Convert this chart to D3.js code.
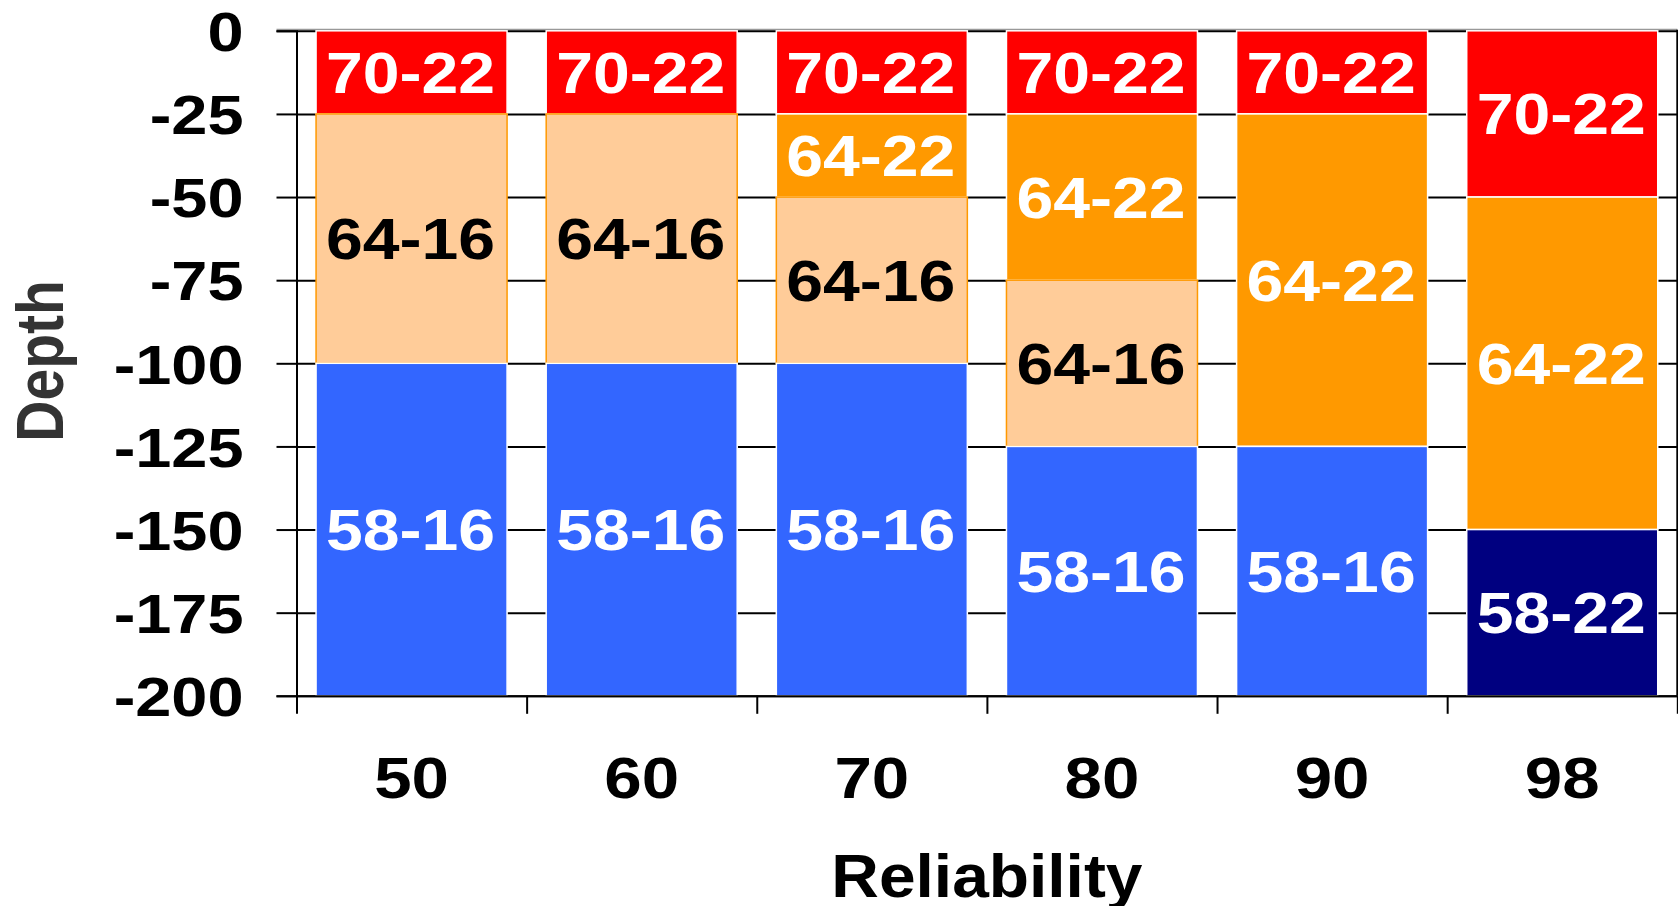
<!DOCTYPE html>
<html>
<head>
<meta charset="utf-8">
<script src="https://cdn.jsdelivr.net/npm/d3@7"></script>
<style>
  body { margin: 0; background: #fff; }
  text { font-family: "Liberation Sans", Arial, sans-serif; font-weight: bold; }
</style>
</head>
<body>
<div id="chart"></div>
<script>
// data: thickness (depth in cm) of each grade layer, top to bottom, per reliability level
let reliability = ["50", "60", "70", "80", "90", "98"];
let grades = ["70-22", "64-22", "64-16", "58-16", "58-22"];
let layer7022 = [25, 25, 25, 25, 25, 50];
let layer6422 = [0, 0, 25, 50, 100, 100];
let layer6416 = [75, 75, 50, 50, 0, 0];
let layer5816 = [100, 100, 100, 75, 75, 0];
let layer5822 = [0, 0, 0, 0, 0, 50];
let depthTicks = [0, -25, -50, -75, -100, -125, -150, -175, -200];

let fills = { "70-22": "#ff0000", "64-22": "#ff9900", "64-16": "#ffcc99", "58-16": "#3366ff", "58-22": "#000080" };
let strokes = { "70-22": "#fff", "64-22": "#fff", "64-16": "#ff9900", "58-16": "#fff", "58-22": "#fff" };
let labelColor = { "70-22": "#fff", "64-22": "#fff", "64-16": "#000", "58-16": "#fff", "58-22": "#fff" };

let layers = [layer7022, layer6422, layer6416, layer5816, layer5822];
let table = reliability.map((r, i) => {
    let row = { rel: r };
    grades.forEach((g, k) => row[g] = layers[k][i]);
    return row;
});

let width = 1678, height = 906;
let margin = { top: 30.8, left: 296.5, right: 0.7, bottom: 210.2 };
let plotW = width - margin.left - margin.right;
let plotH = height - margin.top - margin.bottom;
let stretch = 1.18; // text in the source is drawn wider than normal

let svg = d3.select("#chart").append("svg")
    .attr("width", width).attr("height", height);

let g = svg.append("g").attr("transform", "translate(" + margin.left + "," + margin.top + ")");

let x = d3.scaleBand().domain(reliability).range([0, plotW])
    .paddingInner(0.17).paddingOuter(0.085);
let xEdges = d3.scaleLinear().domain([0, reliability.length]).range([0, plotW]);
let y = d3.scaleLinear().domain([-200, 0]).range([plotH, 0]);

// top border
g.append("line").attr("x1", -20).attr("x2", plotW).attr("y1", -1.3).attr("y2", -1.3)
    .attr("stroke", "#999").attr("stroke-width", 1.5);

// gridlines
g.append("g").attr("class", "grid")
    .call(d3.axisLeft(y).tickValues(depthTicks).tickSize(-plotW).tickFormat(""))
    .call(s => s.select(".domain").remove())
    .selectAll("line").attr("stroke", "#000").attr("stroke-width", 2);

// stacked bars
let stack = d3.stack().keys(grades)(table);

let layerG = g.selectAll(".layer").data(stack).enter().append("g").attr("class", "layer");

layerG.selectAll("rect")
    .data(d => d.map(p => ({ key: d.key, rel: p.data.rel, y0: p[0], y1: p[1] })).filter(p => p.y1 > p.y0))
    .enter().append("rect")
    .attr("x", d => x(d.rel))
    .attr("width", x.bandwidth())
    .attr("y", d => y(-d.y0))
    .attr("height", d => y(-d.y1) - y(-d.y0))
    .attr("fill", d => fills[d.key])
    .attr("stroke", d => strokes[d.key])
    .attr("stroke-width", 1.5);

layerG.selectAll("text")
    .data(d => d.map(p => ({ key: d.key, rel: p.data.rel, y0: p[0], y1: p[1] })).filter(p => p.y1 > p.y0))
    .enter().append("text")
    .attr("transform", d => "translate(" + (x(d.rel) + x.bandwidth() / 2 - 1) + "," + y(-(d.y0 + d.y1) / 2) + ") scale(1.16,1)")
    .attr("text-anchor", "middle")
    .attr("dy", "0.36em")
    .attr("font-size", 57)
    .attr("fill", d => labelColor[d.key])
    .text(d => d.key);

// y axis
let yAxis = g.append("g")
    .call(d3.axisLeft(y).tickValues(depthTicks).tickSize(20).tickFormat(d3.format("d")));
yAxis.selectAll("line, path").attr("stroke", "#000").attr("stroke-width", 2);
yAxis.selectAll("text")
    .attr("font-size", 55)
    .attr("fill", "#000")
    .attr("x", -53 / stretch)
    .attr("dy", "0.36em")
    .attr("transform", "scale(" + stretch + ",1)")
    .text(d => d === 0 ? "0" : d);

// x axis: ticks on the band edges, labels on the band centres
let xAxis = g.append("g").attr("transform", "translate(0," + plotH + ")")
    .call(d3.axisBottom(xEdges).tickValues(d3.range(reliability.length + 1)).tickSize(18).tickSizeOuter(0).tickFormat(""));
xAxis.selectAll("line, path").attr("stroke", "#000").attr("stroke-width", 2);

g.append("line").attr("x1", plotW).attr("x2", plotW).attr("y1", -1).attr("y2", plotH)
    .attr("stroke", "#000").attr("stroke-width", 2);

g.selectAll(".x-label").data(reliability).enter().append("text")
    .attr("class", "x-label")
    .attr("transform", d => "translate(" + (x(d) + x.bandwidth() / 2) + "," + (plotH + 102) + ") scale(" + stretch + ",1)")
    .attr("text-anchor", "middle")
    .attr("font-size", 57)
    .attr("fill", "#000")
    .text(d => d);

// axis titles
svg.append("text")
    .attr("transform", "translate(" + (margin.left + plotW / 2) + ",897) scale(1.08,1)")
    .attr("text-anchor", "middle")
    .attr("font-size", 61)
    .attr("fill", "#000")
    .text("Reliability");

svg.append("text")
    .attr("transform", "translate(63,361) scale(" + stretch + ",1) rotate(-90)")
    .attr("text-anchor", "middle")
    .attr("font-size", 57)
    .attr("fill", "#333")
    .text("Depth");
</script>
</body>
</html>
